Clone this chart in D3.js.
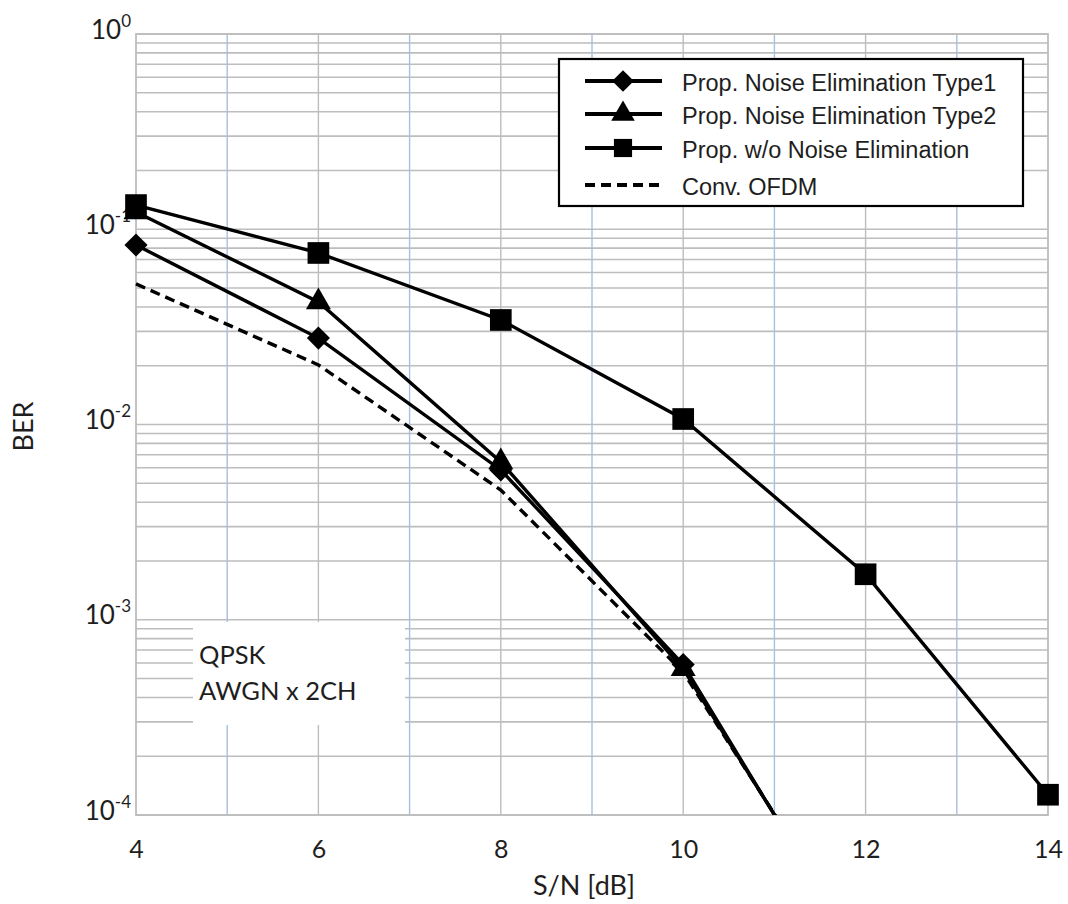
<!DOCTYPE html>
<html>
<head>
<meta charset="utf-8">
<script src="https://cdn.jsdelivr.net/npm/d3@7"></script>
<style>
  html, body { margin: 0; padding: 0; background: #fff; }
  svg { display: block; }
</style>
</head>
<body>
<svg id="chart" width="1068" height="904"></svg>
<script>
// S/N points (dB) and measured BER for each scheme
const snr = [4, 6, 8, 10, 12];
const snrWide = [4, 6, 8, 10, 12, 14];
const berType1 = [0.083, 0.0277, 0.00585, 5.9e-4, 1.7e-5];
const berType2 = [0.1226, 0.0424, 0.00643, 5.6e-4, 1.8e-5];
const berNoElim = [0.133, 0.0756, 0.0343, 0.01067, 0.00171, 1.27e-4];
const berConv = [0.0525, 0.0202, 0.00462, 5.4e-4, 1.9e-5];

const xTickValues = [4, 6, 8, 10, 12, 14];
const yDecades = [1, 1e-1, 1e-2, 1e-3, 1e-4];
const yExponents = ["0", "-1", "-2", "-3", "-4"];

const legendLabels = [
  "Prop. Noise Elimination Type1",
  "Prop. Noise Elimination Type2",
  "Prop. w/o Noise Elimination",
  "Conv. OFDM"
];
const noteLines = ["QPSK", "AWGN x 2CH"];

const svg = d3.select("#chart");
const margin = { left: 136, top: 34, right: 1048, bottom: 815 };

const x = d3.scaleLinear().domain([4, 14]).range([margin.left, margin.right]);
const y = d3.scaleLog().domain([1e-4, 1]).range([margin.bottom, margin.top]);

const gridGray = "#bdbdbd";
const gridBlue = "#a7bfe0";
const tickFont = "Lato, 'Open Sans', sans-serif";
const textColor = "#1e1e1e";

// horizontal grid: every 1..9 step of each decade
const grid = svg.append("g");
grid.selectAll("line.h")
  .data(y.ticks())
  .join("line")
  .attr("x1", margin.left).attr("x2", margin.right)
  .attr("y1", d => y(d)).attr("y2", d => y(d))
  .attr("stroke", gridGray).attr("stroke-width", 1.6);

// vertical grid: even values gray, odd values blue
grid.selectAll("line.v")
  .data(d3.range(5, 14))
  .join("line")
  .attr("x1", d => x(d)).attr("x2", d => x(d))
  .attr("y1", margin.top).attr("y2", margin.bottom)
  .attr("stroke", d => d % 2 ? gridBlue : gridGray)
  .attr("stroke-width", 1.4);

// plot frame
svg.append("rect")
  .attr("x", margin.left).attr("y", margin.top)
  .attr("width", margin.right - margin.left)
  .attr("height", margin.bottom - margin.top)
  .attr("fill", "none").attr("stroke", gridGray).attr("stroke-width", 1.8);

// annotation box
const note = svg.append("g");
note.append("rect")
  .attr("x", 193).attr("y", 622).attr("width", 212).attr("height", 103)
  .attr("fill", "#fff");
note.selectAll("text")
  .data(noteLines)
  .join("text")
  .attr("x", 199)
  .attr("y", (d, i) => 664 + i * 36)
  .attr("font-family", tickFont)
  .attr("font-size", 25.5)
  .attr("fill", textColor)
  .text(d => d);

// x axis labels
const xAxis = svg.append("g")
  .attr("transform", `translate(0,${margin.bottom})`)
  .call(d3.axisBottom(x).tickValues(xTickValues).tickSize(0).tickPadding(0).tickFormat(d3.format("d")));
xAxis.select(".domain").remove();
xAxis.selectAll("text")
  .attr("y", 43).attr("dy", null)
  .attr("font-family", tickFont).attr("font-size", 25).attr("fill", textColor);

// y axis labels with superscript exponents
const yAxis = svg.append("g")
  .attr("transform", `translate(${margin.left},0)`)
  .call(d3.axisLeft(y).tickValues(yDecades).tickSize(0).tickFormat(() => ""));
yAxis.select(".domain").remove();
yAxis.selectAll(".tick text").each(function (d) {
  const t = d3.select(this)
    .attr("x", -5).attr("dy", null).attr("y", 4)
    .attr("text-anchor", "end")
    .attr("font-family", tickFont).attr("fill", textColor);
  t.append("tspan").attr("font-size", 26).text("10");
  t.append("tspan").attr("font-size", 17).attr("dy", -12).text(yExponents[yDecades.indexOf(d)]);
});

// axis titles
svg.append("text")
  .attr("x", x(9) - 8).attr("y", 895)
  .attr("text-anchor", "middle")
  .attr("font-family", tickFont).attr("font-size", 27).attr("fill", textColor)
  .text("S/N [dB]");
svg.append("text")
  .attr("transform", `translate(33,${y(1e-2) + 2}) rotate(-90)`)
  .attr("text-anchor", "middle")
  .attr("font-family", tickFont).attr("font-size", 27).attr("fill", textColor)
  .text("BER");

// clip curves to the plot's vertical extent
svg.append("clipPath").attr("id", "plotClip")
  .append("rect")
  .attr("x", margin.left - 30).attr("y", margin.top - 30)
  .attr("width", margin.right - margin.left + 60)
  .attr("height", margin.bottom - margin.top + 30);

const line = d3.line().x(d => x(d[0])).y(d => y(d[1]));

const series = [
  { xs: snr, ys: berConv, dash: "10,6", marker: null },
  { xs: snr, ys: berType1, dash: null, marker: "diamond" },
  { xs: snr, ys: berType2, dash: null, marker: "triangle" },
  { xs: snrWide, ys: berNoElim, dash: null, marker: "square" }
];

const symbolFor = {
  diamond: d3.symbol().type(d3.symbolDiamond2).size(340),
  triangle: d3.symbol().type(d3.symbolTriangle).size(270),
  square: d3.symbol().type(d3.symbolSquare).size(470)
};

const curves = svg.append("g").attr("clip-path", "url(#plotClip)");
series.forEach(s => {
  const pts = s.xs.map((v, i) => [v, s.ys[i]]);
  curves.append("path")
    .datum(pts)
    .attr("d", line)
    .attr("fill", "none")
    .attr("stroke", "#000")
    .attr("stroke-width", 3.4)
    .attr("stroke-dasharray", s.dash);
  if (s.marker) {
    curves.selectAll(null)
      .data(pts)
      .join("path")
      .attr("transform", d => `translate(${x(d[0])},${y(d[1])})`)
      .attr("d", symbolFor[s.marker])
      .attr("fill", "#000");
  }
});

// legend
const legend = svg.append("g");
legend.append("rect")
  .attr("x", 559).attr("y", 59).attr("width", 464).attr("height", 147)
  .attr("fill", "#fff").attr("stroke", "#000").attr("stroke-width", 2.2);

const legendMarkers = ["diamond", "triangle", "square", null];
const rowY = [81, 114, 148, 185];
const legendSymbol = {
  diamond: d3.symbol().type(d3.symbolDiamond2).size(300),
  triangle: d3.symbol().type(d3.symbolTriangle).size(240),
  square: d3.symbol().type(d3.symbolSquare).size(330)
};
legendLabels.forEach((lab, i) => {
  const g = legend.append("g").attr("transform", `translate(0,${rowY[i]})`);
  g.append("line")
    .attr("x1", 585).attr("x2", 662).attr("y1", 0).attr("y2", 0)
    .attr("stroke", "#000").attr("stroke-width", 4)
    .attr("stroke-dasharray", legendMarkers[i] ? null : "10,6");
  if (legendMarkers[i]) {
    g.append("path")
      .attr("transform", "translate(623,0)")
      .attr("d", legendSymbol[legendMarkers[i]])
      .attr("fill", "#000");
  }
  g.append("text")
    .attr("x", 682).attr("y", 10)
    .attr("font-family", "'Liberation Sans', Arial, sans-serif")
    .attr("font-size", 23.5)
    .attr("fill", textColor)
    .text(lab);
});
</script>
</body>
</html>
